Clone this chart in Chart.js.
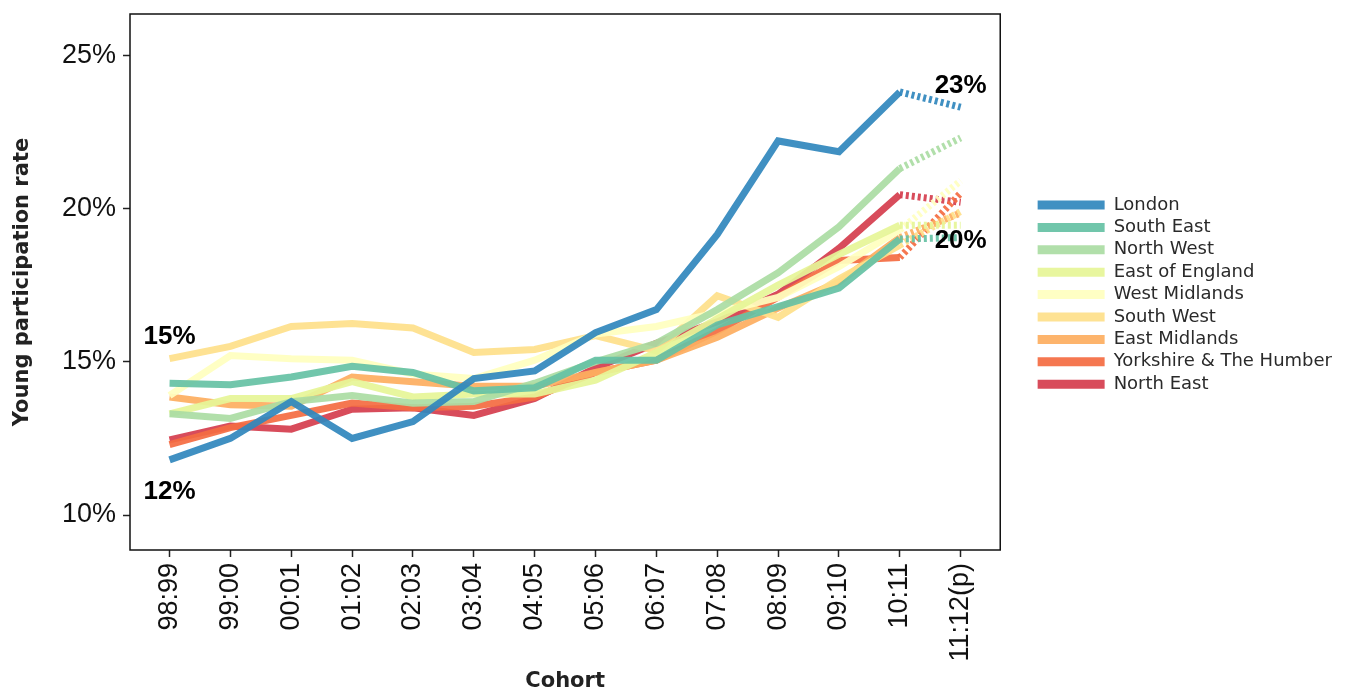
<!DOCTYPE html>
<html>
<head>
<meta charset="utf-8">
<script src="https://cdn.jsdelivr.net/npm/chart.js@4.4.1/dist/chart.umd.min.js"></script>
<style>
  html, body { margin: 0; padding: 0; background: #fff; }
  #wrap { width: 1352px; height: 692px; }
</style>
</head>
<body>
<div id="wrap"><canvas id="chart" width="1352" height="692"></canvas></div>
<script>
'use strict';
// ─────────────────────────────────────────────
//  DATA
// ─────────────────────────────────────────────

const cohorts = ['98:99', '99:00', '00:01', '01:02', '02:03', '03:04', '04:05',
  '05:06', '06:07', '07:08', '08:09', '09:10', '10:11', '11:12(p)'];

const london        = [11.8, 12.5, 13.7, 12.5, 13.05, 14.45, 14.7, 15.95, 16.7, 19.15, 22.2, 21.85, 23.8, 23.3];
const southEast     = [14.3, 14.25, 14.5, 14.85, 14.65, 14.05, 14.15, 15.05, 15.05, 16.2, 16.8, 17.4, 19.0, 19.05];
const northWest     = [13.3, 13.15, 13.7, 13.9, 13.65, 13.7, 14.3, 15.0, 15.6, 16.7, 17.9, 19.4, 21.3, 22.3];
const eastOfEngland = [13.3, 13.8, 13.8, 14.35, 13.85, 13.95, 13.95, 14.4, 15.3, 16.4, 17.5, 18.5, 19.45, 19.45];
const westMidlands  = [13.9, 15.2, 15.1, 15.05, 14.6, 14.45, 15.05, 15.9, 16.15, 16.6, 17.1, 18.1, 19.3, 20.9];
const southWest     = [15.1, 15.5, 16.15, 16.25, 16.1, 15.3, 15.4, 15.85, 15.35, 17.15, 16.45, 17.7, 18.8, 19.9];
const eastMidlands  = [13.85, 13.6, 13.55, 14.5, 14.35, 14.2, 14.2, 14.65, 15.05, 15.8, 16.75, 17.6, 19.05, 19.85];
const yorkshire     = [12.3, 12.85, 13.25, 13.65, 13.5, 13.55, 13.85, 14.65, 15.05, 16.0, 17.1, 18.3, 18.4, 20.5];
const northEast     = [12.45, 12.9, 12.8, 13.45, 13.5, 13.25, 13.8, 14.8, 15.6, 16.3, 17.2, 18.7, 20.45, 20.2];

const yTicks = [10, 15, 20, 25];

// value labels: [text, cohort index, value]
const callouts = [
  ['15%', 0, 15.8],
  ['12%', 0, 10.75],
  ['23%', 13, 24.0],
  ['20%', 13, 18.95],
];

const SERIES = [
  ['London', london, 'rgba(50,136,189,0.93)'],
  ['South East', southEast, 'rgba(102,194,165,0.93)'],
  ['North West', northWest, 'rgba(171,221,164,0.93)'],
  ['East of England', eastOfEngland, 'rgba(230,245,152,0.93)'],
  ['West Midlands', westMidlands, 'rgba(255,255,191,0.93)'],
  ['South West', southWest, 'rgba(254,224,139,0.93)'],
  ['East Midlands', eastMidlands, 'rgba(253,174,97,0.93)'],
  ['Yorkshire & The Humber', yorkshire, 'rgba(244,109,67,0.93)'],
  ['North East', northEast, 'rgba(213,62,79,0.93)'],
];

const LAST = cohorts.length - 1;
const TICK_FONT = '"Liberation Sans", Arial, sans-serif';
const TITLE_FONT = '"DejaVu Sans", sans-serif';

// ─────────────────────────────────────────────
//  PLUGINS
// ─────────────────────────────────────────────

const frame = {
  id: 'frame',
  afterDraw(chart) {
    const { ctx, chartArea: a } = chart;
    ctx.save();
    ctx.strokeStyle = '#111';
    ctx.lineWidth = 1.5;
    ctx.strokeRect(a.left, a.top, a.right - a.left, a.bottom - a.top);
    ctx.restore();
  },
};

const calloutLabels = {
  id: 'calloutLabels',
  afterDatasetsDraw(chart) {
    const { ctx, scales } = chart;
    ctx.save();
    ctx.font = 'bold 26px ' + TICK_FONT;
    ctx.fillStyle = '#000';
    ctx.textAlign = 'center';
    ctx.textBaseline = 'middle';
    callouts.forEach(([txt, i, v]) => {
      ctx.fillText(txt, scales.x.getPixelForValue(i), scales.y.getPixelForValue(v));
    });
    ctx.restore();
  },
};

// ─────────────────────────────────────────────
//  CHART
// ─────────────────────────────────────────────

const tickGrid = { display: true, drawOnChartArea: false, drawTicks: true, tickLength: 7, color: '#222', tickWidth: 1.5 };

new Chart(document.getElementById('chart'), {
  type: 'line',
  data: {
    datasets: SERIES.map(([label, values, color]) => ({
      label,
      data: values.map((v, i) => ({ x: i, y: v })),
      borderColor: color,
      backgroundColor: color,
      borderWidth: 7,
      borderCapStyle: 'butt',
      borderJoinStyle: 'miter',
      pointRadius: 0,
      tension: 0,
      segment: {
        borderDash: ctx => (ctx.p1DataIndex === LAST ? [3, 3] : undefined),
      },
    })),
  },
  options: {
    responsive: false,
    animation: false,
    events: [],
    layout: { padding: { top: 14, right: 10, left: 0, bottom: 0 } },
    plugins: {
      tooltip: { enabled: false },
      legend: {
        position: 'right',
        align: 'start',
        maxWidth: 400,
        title: { display: true, text: ' ', padding: { top: 160.8, bottom: 0 }, font: { size: 14 } },
        labels: {
          boxWidth: 67,
          boxHeight: 9,
          padding: 4.4,
          color: '#2a2a2a',
          font: { family: TITLE_FONT, size: 18, lineHeight: 1 },
          generateLabels: chart =>
            Chart.defaults.plugins.legend.labels.generateLabels(chart)
              .map(l => ({ ...l, lineWidth: 0, lineDash: [] })),
        },
      },
    },
    scales: {
      x: {
        type: 'linear',
        min: -0.65,
        max: LAST + 0.65,
        afterBuildTicks: s => { s.ticks = cohorts.map((_, i) => ({ value: i })); },
        afterFit: s => { s.height = 142; s.paddingLeft = 0; s.paddingRight = 0; },
        ticks: {
          autoSkip: false,
          minRotation: 90,
          maxRotation: 90,
          padding: 6,
          color: '#111',
          font: { family: TICK_FONT, size: 27 },
          callback: v => cohorts[v],
        },
        grid: tickGrid,
        border: { display: false },
        title: {
          display: true,
          text: 'Cohort',
          color: '#222',
          padding: { top: 0, bottom: 0 },
          font: { family: TITLE_FONT, size: 21, weight: 'bold', lineHeight: 1 },
        },
      },
      y: {
        min: 8.86,
        max: 26.34,
        afterBuildTicks: s => { s.ticks = yTicks.map(v => ({ value: v })); },
        afterFit: s => { s.width = 130; s.paddingTop = 0; s.paddingBottom = 0; },
        ticks: {
          padding: 7,
          color: '#111',
          font: { family: TICK_FONT, size: 27 },
          callback: v => v + '%',
        },
        grid: tickGrid,
        border: { display: false },
        title: {
          display: true,
          text: 'Young participation rate',
          color: '#222',
          padding: { top: 12, bottom: 0 },
          font: { family: TITLE_FONT, size: 21, weight: 'bold', lineHeight: 1 },
        },
      },
      gap: {
        position: 'right',
        display: true,
        afterFit: s => { s.width = 33; s.paddingTop = 0; s.paddingBottom = 0; },
        ticks: { display: false },
        grid: { display: false },
        border: { display: false },
      },
    },
  },
  plugins: [frame, calloutLabels],
});
</script>
</body>
</html>
